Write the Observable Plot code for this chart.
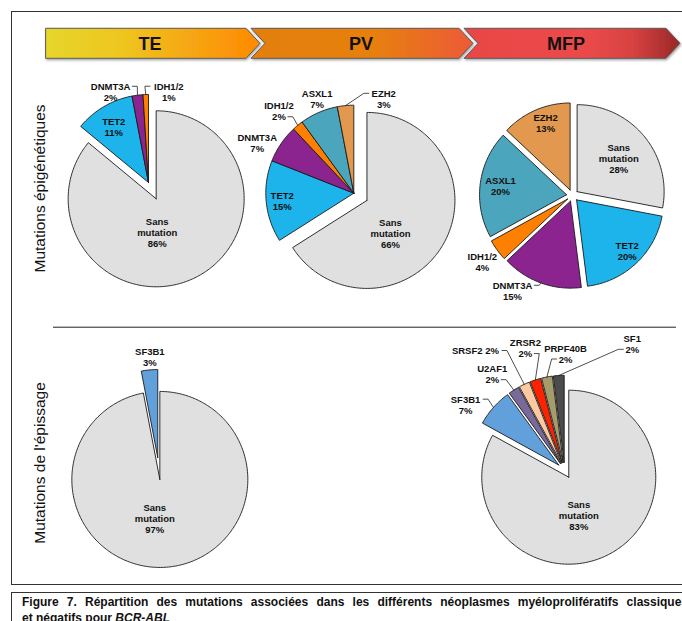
<!DOCTYPE html>
<html><head><meta charset="utf-8">
<script src="https://cdn.jsdelivr.net/npm/d3@7"></script>
<script src="https://cdn.jsdelivr.net/npm/@observablehq/plot@0.6"></script>
<style>
html,body{margin:0;padding:0;background:#fff;width:682px;height:621px;overflow:hidden;position:relative;font-family:"Liberation Sans",Arial,sans-serif;}
#frame{position:absolute;left:11px;top:11px;width:700px;height:574px;border:1.3px solid #333;box-sizing:border-box;}
#caption{position:absolute;left:11px;top:592px;width:700px;height:60px;border:1.3px solid #333;box-sizing:border-box;}
.cap{position:absolute;left:10px;width:666px;font-weight:bold;font-size:12px;color:#111;line-height:14px;}
#chart{position:absolute;left:0;top:0;}
#header{position:absolute;left:0;top:0;}
</style></head><body>
<div id="frame"></div>
<div id="caption">
  <div class="cap" style="top:2px;text-align:justify;text-align-last:justify;">Figure 7. Répartition des mutations associées dans les différents néoplasmes myéloprolifératifs classiques</div>
  <div class="cap" style="top:18px;white-space:nowrap;">et négatifs pour <i>BCR-ABL</i></div>
</div>
<div id="chart"></div>
<svg id="header" width="682" height="70"></svg>
<script>
// ---------- data ----------
const stages = ["TE", "PV", "MFP"];
const rowTitles = ["Mutations épigénétiques", "Mutations de l'épissage"];
const epiCategories = ["Sans mutation", "TET2", "DNMT3A", "IDH1/2", "ASXL1", "EZH2"];
const epiTE  = [86, 11, 2, 1, 0, 0];
const epiPV  = [66, 15, 7, 2, 7, 3];
const epiMFP = [28, 20, 15, 4, 20, 13];
const spliceCategories = ["Sans mutation", "SF3B1", "U2AF1", "SRSF2", "ZRSR2", "PRPF40B", "SF1"];
const spliceTE  = [97, 3, 0, 0, 0, 0, 0];
const spliceMFP = [83, 7, 2, 2, 2, 2, 2];

// ---------- styles ----------
const colors = {
  "Sans mutation": "#e0e0e0", "TET2": "#1db4ec", "DNMT3A": "#8c2490", "IDH1/2": "#ff7f00",
  "ASXL1": "#4ba5bc", "EZH2": "#e2984f", "SF3B1": "#62a0dc", "U2AF1": "#7a699b",
  "SRSF2": "#fcc9a1", "ZRSR2": "#ff2200", "PRPF40B": "#a69c6b", "SF1": "#4c4c4c"
};

// ---------- layout ----------
const pieLayout = [
  {id: "epiTE", values: epiTE, cats: epiCategories, cx: 148, cy: 182, r: 88, explode: {"Sans mutation": 18},
   labels: {"Sans mutation": [51, 170.2], "TET2": [65.7, 328.1], "DNMT3A": [98.3, 337.3], "IDH1/2": [93, 12.6]},
   leaders: {"DNMT3A": ["r", 0], "IDH1/2": ["l", 0]}},
  {id: "epiPV", values: epiPV, cats: epiCategories, cx: 353.3, cy: 192.7, r: 88, explode: {"Sans mutation": 15},
   labels: {"Sans mutation": [54.5, 137.7], "TET2": [72, 264], "DNMT3A": [108.9, 297.5], "IDH1/2": [111, 317.6], "ASXL1": [100.9, 338.7], "EZH2": [99, 17.6]},
   leaders: {"IDH1/2": ["r", 1], "EZH2": ["l", 0]}},
  {id: "epiMFP", values: epiMFP, cats: epiCategories, cx: 572, cy: 195, r: 87, explodeAll: 6,
   labels: {"Sans mutation": [59, 51.6], "TET2": [77.8, 135.3], "DNMT3A": [112.6, 212.2], "IDH1/2": [112, 233.6], "ASXL1": [72.6, 277.5], "EZH2": [77.6, 339.7]},
   leaders: {"DNMT3A": ["r", 0]}},
  {id: "spTE", values: spliceTE, cats: spliceCategories, cx: 158.3, cy: 468, r: 88, explodeAll: 11,
   labels: {"Sans mutation": [49.9, 184.6], "SF3B1": [111.4, 355.4]}, leaders: {}},
  {id: "spMFP", values: spliceMFP, cats: spliceCategories, cx: 564.2, cy: 469.8, r: 87, explodeAll: 8,
   labels: {"Sans mutation": [47.2, 162.6], "SF3B1": [118.9, 303.5], "U2AF1": [120.4, 323], "SRSF2": [149.4, 323.3], "ZRSR2": [128.4, 342.2], "PRPF40B": [116.8, 0.4], "SF1": [143.4, 28.1]},
   leaders: {"SF3B1": ["r", 0], "U2AF1": ["r", 1], "SRSF2": ["r", 0], "ZRSR2": ["r", 1], "PRPF40B": ["l", 1], "SF1": ["l", 1]},
   oneLine: ["SRSF2"]}
];
const rowLayout = [{x: 40, y: 188}, {x: 40, y: 462.5}];
const FS = 9.5, LH = 1.16;

const rad = a => a * Math.PI / 180;
function textW(s, fs) {
  let w = 0;
  for (const ch of s) {
    if (/[A-Z]/.test(ch)) w += 0.72; else if (/[0-9]/.test(ch)) w += 0.556;
    else if (ch === "%") w += 0.889; else if (ch === "/" || ch === " ") w += 0.278; else w += 0.6;
  }
  return w * fs;
}

const slicePts = [], labelData = [], leaderPts = [];
for (const p of pieLayout) {
  const total = d3.sum(p.values);
  let acc = 0;
  p.cats.forEach((c, i) => {
    const v = p.values[i];
    if (!v) return;
    const a0 = acc / total * 360, a1 = (acc + v) / total * 360;
    acc += v;
    const mid = (a0 + a1) / 2;
    const e = (p.explode && p.explode[c]) || p.explodeAll || 0;
    const ax = p.cx + e * Math.sin(rad(mid)), ay = p.cy - e * Math.cos(rad(mid));
    const key = p.id + ":" + c;
    const col = colors[c];
    slicePts.push({key, x: ax, y: ay, color: col});
    const n = Math.max(2, Math.ceil(a1 - a0));
    for (let k = 0; k <= n; k++) {
      const a = a0 + (a1 - a0) * k / n;
      slicePts.push({key, x: ax + p.r * Math.sin(rad(a)), y: ay - p.r * Math.cos(rad(a)), color: col});
    }
    slicePts.push({key, x: ax, y: ay, color: col});

    const lp = p.labels[c];
    if (!lp) return;
    const lx = p.cx + lp[0] * Math.sin(rad(lp[1])), ly = p.cy - lp[0] * Math.cos(rad(lp[1]));
    let lines;
    if (c === "Sans mutation") lines = ["Sans", "mutation", v + "%"];
    else if (p.oneLine && p.oneLine.includes(c)) lines = [c + " " + v + "%"];
    else lines = [c, v + "%"];
    labelData.push({x: lx, y: ly, text: lines.join("\n")});
    const ld = p.leaders[c];
    if (ld) {
      const [side, li] = ld;
      const lineH = FS * LH;
      const qy = ly + (li - (lines.length - 1) / 2) * lineH;
      const w = textW(lines[li], FS);
      const sgn = side === "r" ? 1 : -1;
      const qx = lx + sgn * (w / 2 + 2);
      const kx = qx + sgn * 5;
      const px = ax + p.r * Math.sin(rad(mid)), py = ay - p.r * Math.cos(rad(mid));
      leaderPts.push({key, x: qx, y: qy}, {key, x: kx, y: qy}, {key, x: px, y: py});
    }
  });
}

const rows = rowTitles.map((t, i) => ({text: t, ...rowLayout[i]}));

const chart = Plot.plot({
  width: 682, height: 590,
  marginTop: 0, marginBottom: 0, marginLeft: 0, marginRight: 0,
  x: {domain: [0, 682], range: [0, 682], axis: null},
  y: {domain: [0, 590], range: [0, 590], axis: null},
  color: {type: "identity"},
  style: {background: "transparent", overflow: "visible"},
  marks: [
    Plot.ruleY([326.7], {x1: 53, x2: 676, stroke: "#222", strokeWidth: 1}),
    Plot.line(slicePts, {x: "x", y: "y", z: "key", fill: "color", stroke: "#1a1a1a", strokeWidth: 0.9, strokeLinejoin: "round", curve: "linear"}),
    Plot.line(leaderPts, {x: "x", y: "y", z: "key", stroke: "#222", strokeWidth: 0.8}),
    Plot.text(labelData, {x: "x", y: "y", text: "text", fontSize: FS, fontWeight: "bold", lineHeight: LH,
      fontFamily: "Liberation Sans, Arial, sans-serif", fill: "#111"}),
    Plot.text(rows, {x: "x", y: "y", text: "text", rotate: -90, fontSize: 15.5,
      fontFamily: "Liberation Sans, Arial, sans-serif", fill: "#111"})
  ]
});
document.getElementById("chart").appendChild(chart);

// ---------- header arrows ----------
const hdr = d3.select("#header");
const defs = hdr.append("defs");
const grads = {
  TE: [["0%", "#e6d62c"], ["35%", "#eec61f"], ["70%", "#f7a412"], ["100%", "#ff8900"]],
  PV: [["0%", "#e27f0d"], ["55%", "#e7800f"], ["100%", "#ec5a38"]],
  MFP: [["0%", "#e94646"], ["55%", "#ec4a4a"], ["78%", "#d84242"], ["100%", "#992727"]]
};
const flt = defs.append("filter").attr("id", "sh").attr("x", "-5%").attr("y", "-20%").attr("width", "110%").attr("height", "150%");
flt.append("feDropShadow").attr("dx", 1).attr("dy", 1.5).attr("stdDeviation", 1).attr("flood-color", "#000").attr("flood-opacity", 0.35);
stages.forEach(s => {
  const g = defs.append("linearGradient").attr("id", "g" + s).attr("x1", "0").attr("x2", "1").attr("y1", "0").attr("y2", "0");
  grads[s].forEach(([o, c]) => g.append("stop").attr("offset", o).attr("stop-color", c));
});
const arrTop = 28.3, arrBot = 58.3, arrMid = (arrTop + arrBot) / 2, tipW = 14;
const arrows = [
  {s: "TE", x0: 45.6, x1: 246, notch: false, tx: 150},
  {s: "PV", x0: 251, x1: 459, notch: true, tx: 361},
  {s: "MFP", x0: 464, x1: 666, notch: true, tx: 566}
];
arrows.forEach(a => {
  const pts = [[a.x0, arrTop], [a.x1, arrTop], [a.x1 + tipW, arrMid], [a.x1, arrBot], [a.x0, arrBot]];
  if (a.notch) pts.push([a.x0 + tipW, arrMid]);
  hdr.append("polygon").attr("points", pts.map(p => p.join(",")).join(" "))
    .attr("fill", "url(#g" + a.s + ")").attr("stroke", "#5a5a5a").attr("stroke-width", 1).attr("filter", "url(#sh)");
  hdr.append("text").attr("x", a.tx).attr("y", arrMid + 1).attr("text-anchor", "middle").attr("dominant-baseline", "central")
    .attr("font-family", "Liberation Sans, Arial, sans-serif").attr("font-weight", "bold").attr("font-size", 18)
    .attr("fill", "#111").text(a.s);
});
</script>
</body></html>
